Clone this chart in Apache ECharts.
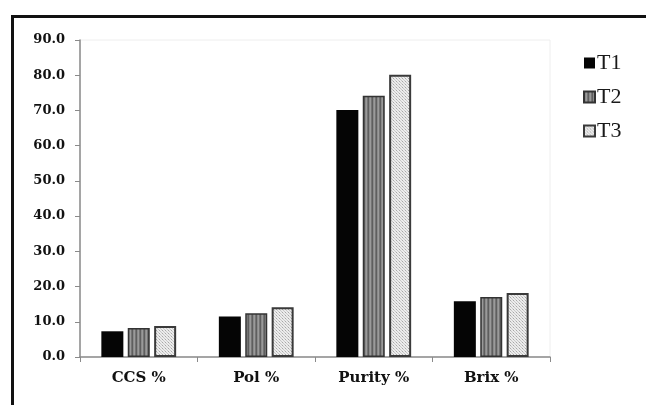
<!DOCTYPE html>
<html>
<head>
<meta charset="utf-8">
<script src="https://cdn.jsdelivr.net/npm/echarts@6/dist/echarts.min.js"></script>
<style>
  html, body { margin: 0; padding: 0; background: #fff; }
  #chart { width: 646px; height: 405px; }
</style>
</head>
<body>
<div id="chart"></div>
<script>
var categories = ['CCS %', 'Pol %', 'Purity %', 'Brix %'];
var seriesNames = ['T1', 'T2', 'T3'];
var t1Values = [7.3, 11.5, 70.1, 15.8];
var t2Values = [8.2, 12.4, 74.2, 17.0];
var t3Values = [8.8, 14.1, 80.1, 18.2];
var yTicks = [0, 10, 20, 30, 40, 50, 60, 70, 80, 90];

function stripePattern() {
  var c = document.createElement('canvas');
  c.width = 4; c.height = 4;
  var ctx = c.getContext('2d');
  var cols = ['#5e5e5e', '#8a8a8a', '#9a9a9a', '#747474'];
  for (var i = 0; i < 4; i++) { ctx.fillStyle = cols[i]; ctx.fillRect(i, 0, 1, 4); }
  return { image: c, repeat: 'repeat' };
}
function dotPattern() {
  var c = document.createElement('canvas');
  c.width = 3; c.height = 3;
  var ctx = c.getContext('2d');
  ctx.fillStyle = '#ececec'; ctx.fillRect(0, 0, 3, 3);
  ctx.fillStyle = '#a8a8a8'; ctx.fillRect(0, 0, 1, 1);
  ctx.fillStyle = '#c8c8c8'; ctx.fillRect(1, 1, 1, 1); ctx.fillRect(2, 2, 1, 1);
  return { image: c, repeat: 'repeat' };
}

var chart = echarts.init(document.getElementById('chart'), null, { renderer: 'canvas' });
var styles = [
  { color: '#050505', borderColor: '#050505', borderWidth: 0 },
  { color: stripePattern(), borderColor: '#333', borderWidth: 1.5 },
  { color: dotPattern(), borderColor: '#3a3a3a', borderWidth: 2 }
];
var dataSets = [t1Values, t2Values, t3Values];

chart.setOption({
  animation: false,
  backgroundColor: '#fff',
  graphic: [{
    type: 'rect', left: 10, top: 14,
    shape: { width: 700, height: 500 },
    style: { fill: 'none', stroke: '#111', lineWidth: 3 },
    silent: true
  }],
  legend: {
    orient: 'vertical', left: 578, top: 47,
    icon: 'rect',
    itemWidth: 11, itemHeight: 11, itemGap: 12,
    data: seriesNames,
    textStyle: { fontFamily: "'Liberation Serif', 'Times New Roman', serif", fontSize: 22, color: '#1a1a1a', padding: [0, 0, 0, -3] }
  },
  grid: { left: 80, right: 96, top: 40, bottom: 48, show: true, borderColor: '#eeeeee', borderWidth: 1 },
  xAxis: {
    type: 'category', data: categories,
    axisLine: { lineStyle: { color: '#8a8a8a', width: 1.5 } },
    axisTick: { show: true, length: 5, lineStyle: { color: '#8a8a8a' } },
    axisLabel: { margin: 14, fontFamily: 'DejaVu Serif', fontWeight: 'bold', fontSize: 15, color: '#111' }
  },
  yAxis: {
    type: 'value', min: 0, max: 90, interval: 10,
    axisLine: { show: true, lineStyle: { color: '#8a8a8a', width: 1.5 } },
    axisTick: { show: true, length: 5, lineStyle: { color: '#8a8a8a' } },
    splitLine: { show: false },
    axisLabel: {
      margin: 15, fontFamily: 'DejaVu Serif', fontWeight: 'bold', fontSize: 13, color: '#111',
      formatter: function (v) { return yTicks.indexOf(v) >= 0 ? v.toFixed(1) : ''; }
    }
  },
  series: seriesNames.map(function (n, i) {
    return {
      name: n, type: 'bar', data: dataSets[i],
      barWidth: 22, barGap: '20%',
      itemStyle: styles[i]
    };
  })
});
</script>
</body>
</html>
